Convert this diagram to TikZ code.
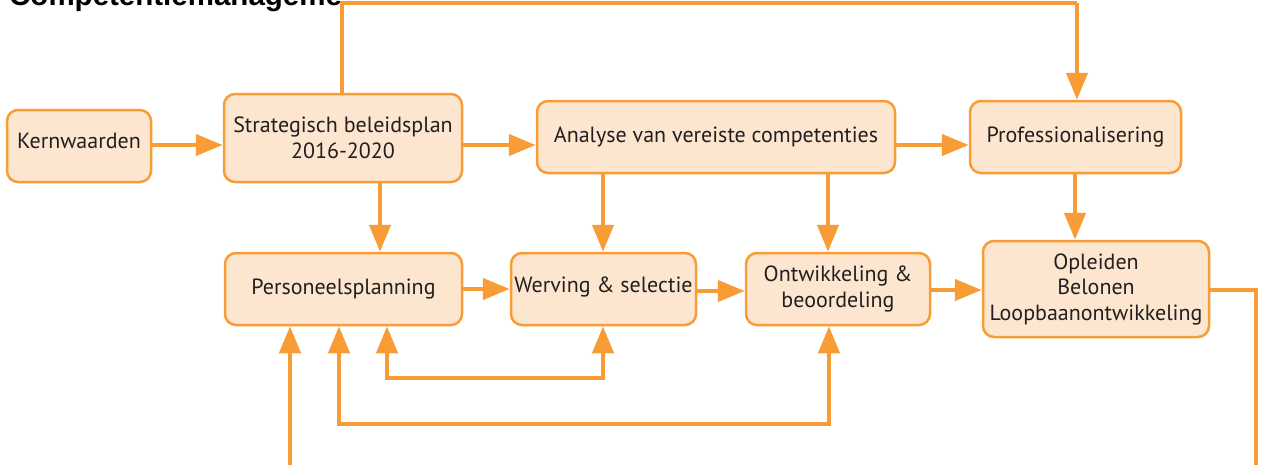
\documentclass[tikz,border=0pt]{standalone}
\usepackage{fontspec}
\setmainfont{PT Sans}
\newfontfamily\titlefont{Liberation Sans}
\usetikzlibrary{arrows.meta}
\definecolor{org}{HTML}{F89C35}
\definecolor{orgfill}{HTML}{FDE6CF}
\definecolor{txt}{HTML}{231F20}
\tikzset{
  box/.style={draw=org, fill=orgfill, line width=2.5pt, rounded corners=11pt, inner sep=0pt, align=center, text=txt, font=\fontsize{22}{25.5}\selectfont},
  conn/.style={draw=org, line width=4.5pt, -{Triangle[length=27pt,width=21pt]}},
  line/.style={draw=org, line width=4.5pt}
}
\begin{document}
\begin{tikzpicture}[x=1pt,y=-1pt]
\useasboundingbox (0,0) rectangle (1261,464);
\begin{scope}
\clip (0,0) rectangle (339,40);
\node[anchor=base west, inner sep=0pt, font=\titlefont\bfseries\fontsize{29.5}{31}\selectfont, text=black] (title) at (9,5.5) {Competentiemanagement};
\end{scope}
% boxes
\node[box, minimum width=144pt, minimum height=72pt, text height=16pt, text depth=12pt] (kern) at (79,146) {Kernwaarden};
\node[box, minimum width=238pt, minimum height=88pt] (strat) at (343,138) {Strategisch beleidsplan\\2016-2020};
\node[box, minimum width=358pt, minimum height=72pt] (anal) at (716,137) {Analyse van vereiste competenties};
\node[box, minimum width=211pt, minimum height=72pt] (prof) at (1075.5,137) {Professionalisering};
\node[box, minimum width=237pt, minimum height=72pt] (pers) at (343.5,289) {Personeelsplanning};
\node[box, minimum width=185pt, minimum height=72pt, text height=16pt, text depth=10pt] (werv) at (603.5,289) {Werving \& selectie};
\node[box, minimum width=184pt, minimum height=72pt] (ontw) at (838,289) {Ontwikkeling \&\\beoordeling};
\node[box, minimum width=226pt, minimum height=96pt] (opl) at (1096,289) {Opleiden\\Belonen\\Loopbaanontwikkeling};
\coordinate (topL) at (342,3);
\coordinate (topR) at (1077,3);
\coordinate (rEnd) at (1256,470);
\coordinate (bStart) at (290,470);
\coordinate (loopA) at (387,378);
\coordinate (loopB) at (603,378);
\coordinate (loopC) at (339,424);
\coordinate (loopD) at (829,424);
% horizontal arrows
\draw[conn] (kern.east |- 0,145) -- (strat.west |- 0,145);
\draw[conn] (strat.east |- 0,145) -- (anal.west |- 0,145);
\draw[conn] (anal.east |- 0,145) -- (prof.west |- 0,145);
\draw[conn] (pers.east |- 0,289) -- (werv.west |- 0,289);
\draw[conn] (werv.east |- 0,291) -- (ontw.west |- 0,291);
\draw[conn] (ontw.east |- 0,290) -- (opl.west |- 0,290);
% top loop
\draw[line] (strat.north -| topL) -- (topL) -- (topR);
\draw[conn] (topR) -- (prof.north -| topR);
% down arrows
\draw[conn] (strat.south -| 380,0) -- (pers.north -| 380,0);
\draw[conn] (anal.south -| 603,0) -- (werv.north -| 603,0);
\draw[conn] (anal.south -| 828,0) -- (ontw.north -| 828,0);
\draw[conn] (prof.south -| 1075,0) -- (opl.north -| 1075,0);
% right exit
\draw[line] (opl.east |- 0,290) -- (1256,290) -- (rEnd);
% bottom entry
\draw[conn] (bStart) -- (pers.south -| bStart);
% loops
\draw[line, {Triangle[length=27pt,width=21pt]}-{Triangle[length=27pt,width=21pt]}] (pers.south -| loopA) -- (loopA) -- (loopB) -- (werv.south -| loopB);
\draw[line, {Triangle[length=27pt,width=21pt]}-{Triangle[length=27pt,width=21pt]}] (pers.south -| loopC) -- (loopC) -- (loopD) -- (ontw.south -| loopD);
\end{tikzpicture}
\end{document}
